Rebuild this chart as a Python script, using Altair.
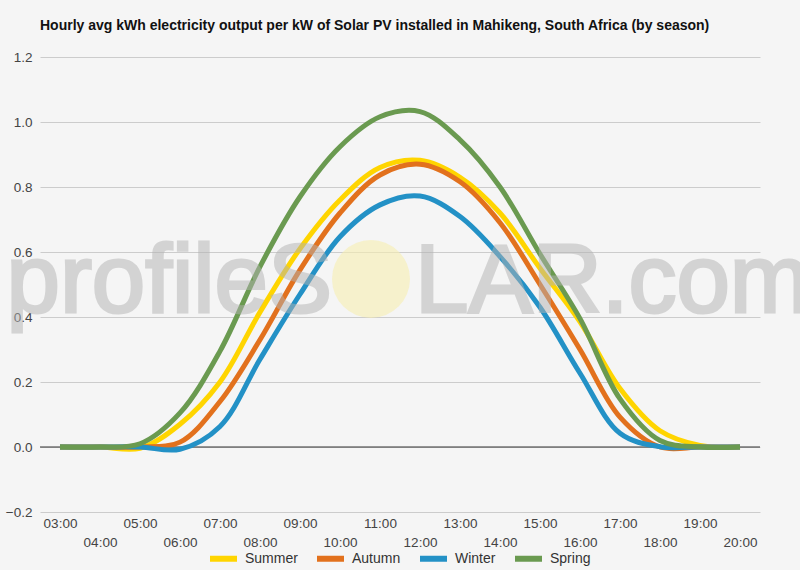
import altair as alt
import pandas as pd

hours = list(range(3, 21))
summer = [0, 0, -0.004, 0.07, 0.2, 0.415, 0.61, 0.76, 0.86, 0.882, 0.83, 0.72, 0.55, 0.385, 0.18, 0.05, 0.005, 0]
autumn = [0, 0, 0, 0.015, 0.14, 0.33, 0.545, 0.72, 0.837, 0.87, 0.816, 0.69, 0.50, 0.30, 0.092, 0.0, 0, 0]
winter = [0, 0, 0, -0.007, 0.063, 0.27, 0.47, 0.647, 0.745, 0.772, 0.709, 0.586, 0.43, 0.227, 0.042, 0.001, 0, 0]
spring = [0, 0, 0.01, 0.105, 0.295, 0.555, 0.77, 0.924, 1.016, 1.032, 0.945, 0.80, 0.594, 0.395, 0.148, 0.02, 0, 0]

seasons = ["Summer", "Autumn", "Winter", "Spring"]
colors = ["#FFD500", "#E2711D", "#2391C6", "#6A9A50"]

rows = []
for i, (name, vals) in enumerate(zip(seasons, [summer, autumn, winter, spring])):
    for h, v in zip(hours, vals):
        rows.append({"hour": h, "value": v, "season": name, "order": i})
df = pd.DataFrame(rows)

y_ticks = [round(-0.2 + 0.1 * i, 1) for i in range(15)]
FONT = "Arial"

x_scale = alt.Scale(domain=[2.5, 20.5], nice=False, zero=False)
y_scale = alt.Scale(domain=[-0.2, 1.2], nice=False, zero=False)

x_axis = alt.Axis(
    values=hours,
    labelExpr="(datum.value < 10 ? '0' : '') + datum.value + ':00'",
    title=None, grid=False, domain=False, ticks=False,
    labelFont=FONT, labelFontSize=13.5, labelColor="#444",
    labelOverlap=False, labelBound=False, labelFlush=False,
    labelBaseline="top",
    labelPadding={"condition": {"test": "datum.value % 2 == 0", "value": 23}, "value": 4},
)
y_axis = alt.Axis(
    values=y_ticks,
    labelExpr="abs(round(datum.value*10)) % 2 == 1 ? '' : format(datum.value, '.1f')",
    title=None, domain=False, ticks=False, grid=True,
    gridColor={"condition": {"test": "abs(round(datum.value*10)) % 2 == 1", "value": "#e2e2e2"}, "value": "#cccccc"},
    labelFont=FONT, labelFontSize=13.5, labelColor="#444", labelPadding=8,
)

lines = alt.Chart(df).mark_line(interpolate="catmull-rom", strokeWidth=5).encode(
    x=alt.X("hour:Q", scale=x_scale, axis=x_axis),
    y=alt.Y("value:Q", scale=y_scale, axis=y_axis),
    color=alt.Color(
        "season:N",
        scale=alt.Scale(domain=seasons, range=colors),
        sort=seasons,
        legend=alt.Legend(
            title=None, orient="none", direction="horizontal",
            legendX=167, legendY=485,
            symbolType="stroke", symbolStrokeWidth=6, symbolSize=729,
            labelFont=FONT, labelFontSize=14, labelColor="#333",
            labelOffset=5, columnPadding=7, padding=0,
        ),
    ),
    order=alt.Order("order:Q"),
)

zero = alt.Chart(alt.Data(values=[{"z": 0}])).mark_rule(color="#333333", strokeWidth=1).encode(
    y=alt.Y("z:Q", scale=y_scale)
)

sun = alt.Chart(alt.Data(values=[{"a": 1}])).mark_point(
    shape="circle", filled=True, size=6084, color="#f6efb0", opacity=0.6
).encode(x=alt.value(331), y=alt.value(222))

wm_left = alt.Chart(alt.Data(values=[{"t": "profileS"}])).mark_text(
    align="right", baseline="alphabetic", font=FONT, fontSize=96,
    color="#b3b3b3", stroke="#b3b3b3", strokeWidth=3, opacity=0.5
).encode(x=alt.value(292), y=alt.value(255), text="t:N")

wm_right = alt.Chart(alt.Data(values=[{"t": "LAR.com"}])).mark_text(
    align="left", baseline="alphabetic", font=FONT, fontSize=96,
    color="#b3b3b3", stroke="#b3b3b3", strokeWidth=3, opacity=0.5
).encode(x=alt.value(375), y=alt.value(255), text="t:N")

chart = alt.layer(zero, lines, sun, wm_left, wm_right).properties(
    width=720, height=455,
    autosize=alt.AutoSizeParams(type="none"),
    padding={"left": 40, "top": 57, "right": 40, "bottom": 58},
    background="#f5f5f5",
    title=alt.TitleParams(
        "Hourly avg kWh electricity output per kW of Solar PV installed in Mahikeng, South Africa (by season)",
        anchor="start", frame="group", font=FONT, fontSize=14, fontWeight="bold", color="#111",
        baseline="alphabetic", offset=6,
    ),
).configure_view(stroke=None)

chart.save("out.html", embed_options={"renderer": "svg", "actions": False})
